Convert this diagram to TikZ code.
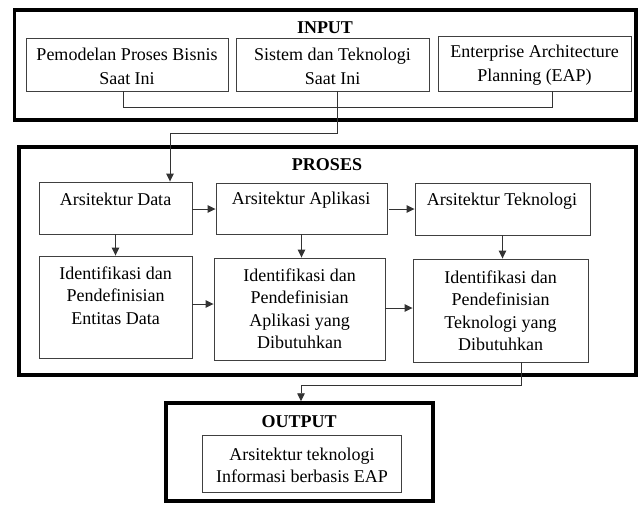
\documentclass[tikz,border=0pt]{standalone}
\usepackage{fontspec}
\setmainfont{Liberation Serif}
\usetikzlibrary{arrows.meta}
\begin{document}
\begin{tikzpicture}[x=1pt,y=-1pt,
  txt/.style={font=\fontsize{18}{22.5}\selectfont, align=center, inner sep=0pt},
  txtin/.style={font=\fontsize{18}{24}\selectfont, align=center, inner sep=0pt},
  ttl/.style={font=\fontsize{18}{22}\selectfont\bfseries, inner sep=0pt},
  outerbox/.style={draw=black, line width=3.5pt, inner sep=0pt},
  box/.style={draw=black!75, line width=0.9pt, inner sep=0pt},
  conn/.style={draw=black!80, line width=0.9pt},
  arr/.style={conn, -{Triangle[length=8pt,width=7.5pt]}}
]
\useasboundingbox (0,0) rectangle (639,504);
\fill[white] (0,0) rectangle (639,504);

% outer frames
\node[outerbox, minimum width=621.5pt, minimum height=110pt] (input) at (325.25,65) {};
\node[outerbox, minimum width=617pt, minimum height=228pt] (proses) at (327.5,261) {};
\node[outerbox, minimum width=267pt, minimum height=98pt] (output) at (299.5,452) {};

% titles
\node[ttl] (tin) at (325,28) {INPUT};
\node[ttl] (tpr) at (327,165) {PROSES};
\node[ttl] (tout) at (299,421.5) {OUTPUT};

% input boxes
\node[box, minimum width=202pt, minimum height=53pt] (in1) at (127,64.5) {};
\node[box, minimum width=193pt, minimum height=53pt] (in2) at (332.5,64.5) {};
\node[box, minimum width=193pt, minimum height=55pt] (in3) at (534.5,63.5) {};
\node[txtin] (l1) at (127,66.5) {Pemodelan Proses Bisnis\\Saat Ini};
\node[txtin] (l2) at (332.5,66.5) {Sistem dan Teknologi\\Saat Ini};
\node[txtin] (l3) at (534.5,65.5) {Enterprise Architecture\\Planning (EAP)};

% process row 1
\node[box, minimum width=153pt, minimum height=52pt] (data) at (115.5,208) {};
\node[box, minimum width=171pt, minimum height=51pt] (apl) at (301.5,208.5) {};
\node[box, minimum width=175pt, minimum height=52pt] (tek) at (502.5,209) {};
\node[txt] (ld) at (115.5,199.5) {Arsitektur Data};
\node[txt] (la) at (301,200.5) {Arsitektur Aplikasi};
\node[txt] (lt) at (502,201.5) {Arsitektur Teknologi};

% process row 2
\node[box, minimum width=153pt, minimum height=102pt] (id1) at (115.5,307) {};
\node[box, minimum width=171pt, minimum height=102pt] (id2) at (299.5,309) {};
\node[box, minimum width=175pt, minimum height=103pt] (id3) at (500.5,310.5) {};
\node[txt] (li1) at (115.5,295.5) {Identifikasi dan\\Pendefinisian\\Entitas Data};
\node[txt] (li2) at (299.5,308.5) {Identifikasi dan\\Pendefinisian\\Aplikasi yang\\Dibutuhkan};
\node[txt] (li3) at (500.5,310.5) {Identifikasi dan\\Pendefinisian\\Teknologi yang\\Dibutuhkan};

% output box
\node[box, minimum width=199pt, minimum height=57pt] (res) at (301.5,463.5) {};
\node[txt, font=\fontsize{18}{22}\selectfont] (lr) at (302,465.5) {Arsitektur teknologi\\Informasi berbasis EAP};

% connectors
\draw[conn] ([xshift=-4pt]in1.south) -- ++(0,16) -| ([xshift=17.5pt]in3.south);
\draw[arr] ([xshift=4.5pt]in2.south) -- ++(0,42) -| ([xshift=54.5pt]data.north);
\draw[arr] ([yshift=-1pt]data.east) -- ([yshift=-1pt]data.east -| apl.west);
\draw[arr] ([xshift=2pt,yshift=-0.5pt]apl.east) -- ([yshift=-0.5pt]apl.east -| tek.west);
\draw[arr] (data.south) -- (data.south |- id1.north);
\draw[arr] (apl.south) -- (apl.south |- id2.north);
\draw[arr] (tek.south) -- (tek.south |- id3.north);
\draw[arr] ([yshift=3pt]id1.east) -- ([yshift=3pt]id1.east -| id2.west);
\draw[arr] ([yshift=1pt]id2.east) -- ([yshift=1pt]id2.east -| id3.west);
\draw[arr] ([xshift=20.5pt]id3.south) -- ++(0,23) -| ([xshift=1.5pt]output.north);
\end{tikzpicture}
\end{document}
